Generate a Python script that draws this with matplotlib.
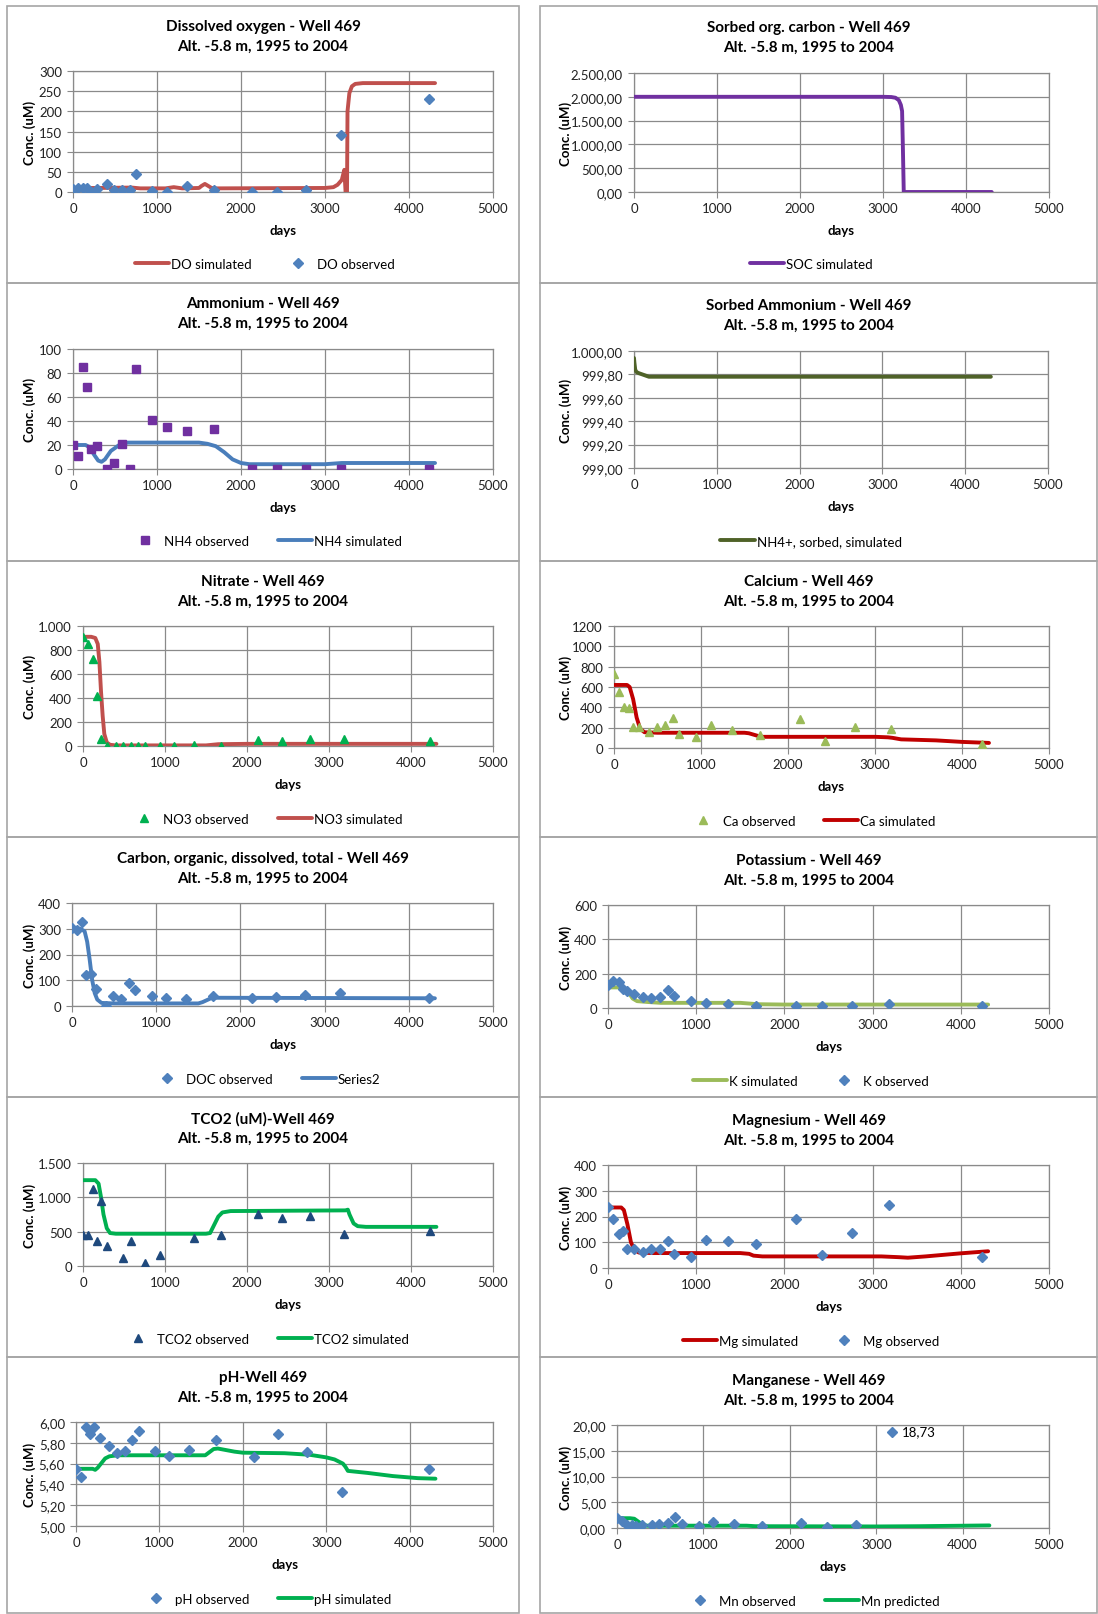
import matplotlib
matplotlib.use("Agg")
import matplotlib.pyplot as plt
from matplotlib.patches import Rectangle
from matplotlib.ticker import FuncFormatter, FixedLocator

plt.rcParams['font.family'] = ['Lato', 'DejaVu Sans']

W, H = 1098, 1615

# sampling days of the well (days since start of 1995)
OBS_DAYS = [0, 60, 120, 170, 220, 290, 400, 490, 585, 675, 750, 945, 1115,
            1355, 1680, 2135, 2425, 2770, 3185, 4235]

# dissolved oxygen
do_obs = [7, 11, 11, 9, 1, 8, 19, 6, 5, 5, 44, 3, 1, 15, 5, 1, 0, 6, 142, 231]
do_sim_days = [0, 300, 700, 800, 1100, 1200, 1300, 1500, 1530, 1570, 1610, 1650,
               1700, 3000, 3100, 3150, 3200, 3230, 3245, 3262, 3268, 3290, 3320,
               3360, 3450, 4310]
do_sim = [10, 10, 11, 9, 9, 12, 9, 10, 15, 20, 15, 10, 9, 10, 12, 18, 30, 55,
          0, 0, 200, 245, 262, 268, 270, 270]

# sorbed organic carbon
soc_sim_days = [0, 3000, 3100, 3150, 3190, 3215, 3230, 3240, 3250, 4310]
soc_sim = [2000, 2000, 1995, 1980, 1930, 1830, 1700, 900, 0, 0]

# ammonium
nh4_obs = [20, 11, 85, 68, 17, 19, 0, 5, 21, 0, 83, 41, 35, 32, 33, 0, 0, 0, 0, 0]
nh4_sim_days = [0, 150, 200, 250, 300, 340, 380, 450, 550, 650, 1000, 1500,
                1600, 1700, 1800, 1900, 2000, 2100, 3000, 3200, 4310]
nh4_sim = [20, 20, 18, 12, 7, 6, 8, 15, 20, 22, 22, 22, 21, 19, 14, 8, 5, 4, 4,
           5, 5]

# sorbed ammonium
snh4_sim_days = [0, 5, 15, 30, 60, 100, 180, 4310]
snh4_sim = [999.94, 999.90, 999.84, 999.82, 999.81, 999.80, 999.78, 999.78]

# nitrate
no3_obs = [912, 848, 729, 414, 55, 0, 0, 0, 0, 0, 0, 0, 0, 5, 0, 47, 41, 55,
           55, 41]
no3_sim_days = [0, 100, 150, 180, 200, 220, 240, 260, 290, 330, 400, 1500,
                1650, 2000, 4310]
no3_sim = [910, 910, 900, 850, 700, 450, 250, 100, 30, 10, 5, 5, 15, 18, 18]

# calcium
ca_obs = [725, 551, 400, 393, 203, 210, 157, 210, 223, 295, 141, 105, 223, 174,
          131, 289, 69, 203, 184, 36]
ca_sim_days = [0, 150, 180, 220, 260, 300, 350, 500, 1500, 1550, 1650, 1700,
               3000, 3150, 3200, 3300, 3700, 4000, 4310]
ca_sim = [620, 620, 600, 480, 300, 190, 155, 150, 150, 145, 120, 110, 110,
          105, 100, 85, 75, 60, 50]

# dissolved organic carbon
doc_obs = [302, 295, 325, 121, 126, 67, 0, 39, 28, 91, 61, 38, 32, 28, 39, 32,
           35, 41, 52, 31]
doc_sim_days = [0, 100, 150, 180, 210, 240, 270, 300, 350, 500, 1500, 1550,
                1650, 1700, 4310]
doc_sim = [300, 300, 290, 250, 180, 100, 50, 25, 12, 10, 10, 15, 30, 32, 30]

# potassium
k_obs = [135, 155, 153, 108, 101, 81, 62, 56, 66, 105, 68, 43, 29, 23, 14, 14,
         10, 14, 23, 14]
k_sim_days = [0, 150, 200, 240, 280, 330, 450, 600, 1500, 1700, 2000, 4310]
k_sim = [120, 120, 110, 85, 55, 40, 35, 30, 30, 22, 20, 20]

# total CO2
tco2_days = [0, 60, 120, 170, 220, 290, 490, 585, 750, 945, 1355, 1680, 2135,
             2425, 2770, 3185, 4235]
tco2_obs = [455, 455, 1127, 363, 953, 285, 116, 358, 48, 160, 411, 445, 760,
            702, 721, 469, 503]
tco2_sim_days = [0, 150, 190, 220, 250, 290, 330, 400, 1500, 1550, 1600, 1650,
                 1700, 1800, 3200, 3230, 3250, 3300, 3350, 3450, 4310]
tco2_sim = [1250, 1250, 1200, 1000, 750, 550, 480, 470, 470, 480, 600, 720,
            780, 800, 810, 820, 750, 620, 580, 570, 570]

# magnesium
mg_obs = [235, 192, 133, 144, 75, 75, 63, 74, 75, 103, 54, 44, 108, 103, 92,
          192, 52, 137, 245, 41]
mg_sim_days = [0, 150, 180, 220, 260, 300, 350, 500, 1500, 1600, 1650, 1750,
               3100, 3300, 3400, 3600, 4000, 4310]
mg_sim = [235, 235, 225, 170, 100, 70, 60, 58, 58, 55, 48, 45, 45, 42, 40, 45,
          57, 65]

# pH
ph_obs = [5.55, 5.47, 5.95, 5.88, 5.95, 5.85, 5.77, 5.70, 5.72, 5.83, 5.91,
          5.72, 5.67, 5.73, 5.83, 5.66, 5.88, 5.71, 5.33, 5.55]
ph_sim_days = [0, 200, 230, 260, 300, 350, 400, 500, 1550, 1600, 1650, 1700,
               1800, 1900, 2000, 2500, 2800, 3000, 3100, 3150, 3200, 3230, 3260,
               3500, 3800, 4100, 4310]
ph_sim = [5.55, 5.55, 5.54, 5.56, 5.60, 5.65, 5.67, 5.68, 5.68, 5.71, 5.74,
          5.745, 5.73, 5.715, 5.705, 5.70, 5.685, 5.66, 5.64, 5.62, 5.60, 5.57,
          5.53, 5.51, 5.48, 5.46, 5.455]

# manganese (no sample on the last date)
mn_days = OBS_DAYS[:-1]
mn_obs = [1.9, 1.4, 0.6, 0.6, 0.3, 0.6, 0.6, 0.7, 1.0, 2.1, 0.7, 0.4, 1.2, 0.7,
          0.4, 0.9, 0.2, 0.6, 18.73]
mn_sim_days = [0, 150, 200, 250, 300, 350, 1500, 1600, 3000, 3500, 4310]
mn_sim = [1.9, 1.9, 1.8, 1.2, 0.6, 0.45, 0.45, 0.35, 0.3, 0.35, 0.5]

SUB = "Alt. -5.8 m, 1995 to 2004"
BLUE = "#4F81BD"
GRID = "#8a8a8a"


def eu(decimals, group=True):
    def f(v, pos):
        s = f"{v:,.{decimals}f}" if group else f"{v:.{decimals}f}"
        return s.replace(",", "X").replace(".", ",").replace("X", ".")
    return FuncFormatter(f)


def fig_rect(x0, x1, y0, y1):
    return [x0 / W, 1 - y1 / H, (x1 - x0) / W, (y1 - y0) / H]


fig = plt.figure(figsize=(W / 100, H / 100), dpi=100)

# panel frames
rows = [(7, 284), (284, 562), (562, 838), (838, 1098), (1098, 1358), (1358, 1614)]
for top, bot in rows:
    for x0, x1 in [(7, 519), (540, 1097)]:
        fig.add_artist(Rectangle((x0 / W, 1 - bot / H), (x1 - x0) / W,
                                 (bot - top) / H, transform=fig.transFigure,
                                 fill=False, edgecolor="#a6a6a6", lw=1.2))


def panel(box, title, col, title_y, legend_y, ymax, ystep, fmt, series,
          ymin=0, label=None):
    ax = fig.add_axes(fig_rect(*box))
    ax.set_xlim(0, 5000)
    ax.set_ylim(ymin, ymax)
    ax.xaxis.set_major_locator(FixedLocator(range(0, 5001, 1000)))
    n = int(round((ymax - ymin) / ystep))
    ax.yaxis.set_major_locator(FixedLocator([ymin + i * ystep for i in range(n + 1)]))
    ax.yaxis.set_major_formatter(fmt)
    ax.grid(True, color=GRID, lw=0.9)
    ax.set_axisbelow(True)
    for sp in ax.spines.values():
        sp.set_color(GRID)
        sp.set_linewidth(0.9)
    ax.tick_params(length=4, color=GRID, labelsize=9.5, pad=3, colors="#222222")
    ax.tick_params(axis="y", pad=4)
    handles = []
    for kind, xs, ys, color, mk, lab in series:
        if kind == "line":
            h, = ax.plot(xs, ys, color=color, lw=2.8, solid_capstyle="round",
                         zorder=3, label=lab)
        else:
            h, = ax.plot(xs, ys, ls="none", marker=mk, color=color,
                         ms=5 if mk == "D" else 5.3, zorder=4, label=lab)
        handles.append(h)
    ax.annotate("days", xy=(0.5, 0), xycoords="axes fraction", xytext=(0, -38),
                textcoords="offset pixels", ha="center", va="center",
                fontsize=9.5, fontweight="bold")
    ylab_x = 30 if col == 0 else 566
    fig.text(ylab_x / W, 1 - (box[2] + box[3]) / 2 / H, "Conc. (uM)",
             rotation=90, ha="center", va="center", fontsize=9.5,
             fontweight="bold")
    cx = 263 if col == 0 else 809
    fig.text(cx / W, 1 - title_y / H, title + "\n" + SUB, ha="center",
             va="center", fontsize=11, fontweight="bold", linespacing=1.5)
    lx = 265 if col == 0 else 811
    fig.legend(handles=handles, loc="center", bbox_to_anchor=(lx / W, 1 - legend_y / H),
               ncol=len(handles), frameon=False, fontsize=9.5, handlelength=2.6,
               handletextpad=0.15, columnspacing=2.2, numpoints=1)
    if label:
        lx_, ly_, txt = label
        ax.annotate(txt, xy=(lx_, ly_), xytext=(10, 0), textcoords="offset pixels",
                    va="center", ha="left", fontsize=9.5)
    return ax


panel((73, 493, 72, 193), "Dissolved oxygen - Well 469", 0, 37, 265, 300, 50,
      eu(0), [("line", do_sim_days, do_sim, "#C0504D", None, "DO simulated"),
              ("pts", OBS_DAYS, do_obs, BLUE, "D", "DO observed")])
panel((634, 1049, 74, 193), "Sorbed org. carbon - Well 469", 1, 38, 265, 2500, 500,
      eu(2), [("line", soc_sim_days, soc_sim, "#7030A0", None, "SOC simulated")])
panel((73, 493, 350, 470), "Ammonium - Well 469", 0, 314, 542, 100, 20,
      eu(0), [("pts", OBS_DAYS, nh4_obs, "#7030A0", "s", "NH4 observed"),
              ("line", nh4_sim_days, nh4_sim, "#4A7EBB", None, "NH4 simulated")])
panel((634, 1048, 352, 469), "Sorbed Ammonium - Well 469", 1, 316, 542, 1000, 0.2,
      eu(2), [("line", snh4_sim_days, snh4_sim, "#4F6228", None,
               "NH4+, sorbed, simulated")], ymin=999)
panel((83, 493, 627, 747), "Nitrate - Well 469", 0, 592, 820, 1000, 200,
      eu(0), [("pts", OBS_DAYS, no3_obs, "#00B050", "^", "NO3 observed"),
              ("line", no3_sim_days, no3_sim, "#C0504D", None, "NO3 simulated")])
panel((614, 1049, 627, 749), "Calcium - Well 469", 1, 592, 822, 1200, 200,
      eu(0, group=False),
      [("pts", OBS_DAYS, ca_obs, "#9BBB59", "^", "Ca observed"),
       ("line", ca_sim_days, ca_sim, "#C00000", None, "Ca simulated")])
panel((72, 493, 904, 1007), "Carbon, organic, dissolved, total - Well 469", 0, 869,
      1080, 400, 100, eu(0),
      [("pts", OBS_DAYS, doc_obs, BLUE, "D", "DOC observed"),
       ("line", doc_sim_days, doc_sim, "#4A7EBB", None, "Series2")])
panel((608, 1049, 906, 1009), "Potassium - Well 469", 1, 871, 1082, 600, 200,
      eu(0), [("line", k_sim_days, k_sim, "#9BBB59", None, "K simulated"),
              ("pts", OBS_DAYS, k_obs, BLUE, "D", "K observed")])
panel((83, 493, 1164, 1267), "TCO2 (uM)-Well 469", 0, 1129, 1340, 1500, 500,
      eu(0), [("pts", tco2_days, tco2_obs, "#1F497D", "^", "TCO2 observed"),
              ("line", tco2_sim_days, tco2_sim, "#00B050", None, "TCO2 simulated")])
panel((608, 1049, 1166, 1269), "Magnesium - Well 469", 1, 1131, 1342, 400, 100,
      eu(0), [("line", mg_sim_days, mg_sim, "#C00000", None, "Mg simulated"),
              ("pts", OBS_DAYS, mg_obs, BLUE, "D", "Mg observed")])
panel((76, 493, 1423, 1527), "pH-Well 469", 0, 1388, 1600, 6.0, 0.2, eu(2),
      [("pts", OBS_DAYS, ph_obs, BLUE, "D", "pH observed"),
       ("line", ph_sim_days, ph_sim, "#00B050", None, "pH simulated")], ymin=5.0)
panel((617, 1049, 1426, 1529), "Manganese - Well 469", 1, 1391, 1602, 20, 5, eu(2),
      [("pts", mn_days, mn_obs, BLUE, "D", "Mn observed"),
       ("line", mn_sim_days, mn_sim, "#00B050", None, "Mn predicted")],
      label=(mn_days[-1], mn_obs[-1], "18,73"))

fig.savefig("out.png", dpi=100)
